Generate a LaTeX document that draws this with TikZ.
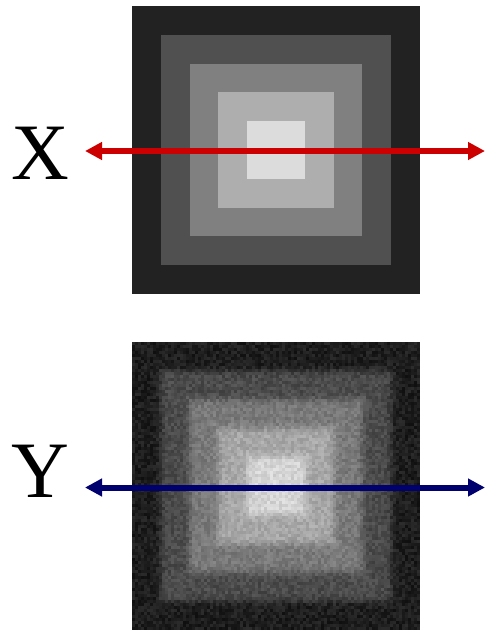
\documentclass[tikz,border=0pt]{standalone}
\usepackage{fontspec}
\setmainfont{Liberation Serif}
\usetikzlibrary{arrows.meta}
\definecolor{LevelA}{RGB}{34, 34, 34}
\definecolor{LevelB}{RGB}{80, 80, 80}
\definecolor{LevelC}{RGB}{128, 128, 128}
\definecolor{LevelD}{RGB}{174, 174, 174}
\definecolor{LevelE}{RGB}{220, 220, 220}
\definecolor{ProfileRed}{RGB}{204, 0, 0}
\definecolor{ProfileBlue}{RGB}{0, 0, 110}
\begin{document}
\begin{tikzpicture}[
    x=1pt, y=-1pt,
    letter/.style={font=\fontsize{80}{80}\selectfont, inner sep=0pt},
    profile/.style={{Triangle[length=17pt, width=17pt]}-{Triangle[length=17pt, width=17pt]}, line width=6pt}
  ]
    \useasboundingbox (0,0) rectangle (486,632);

    % Clean image: nested squares
    \foreach \k/\c in {0/LevelA, 1/LevelB, 2/LevelC, 3/LevelD, 4/LevelE} {
      \fill[\c] (132+28.8*\k, 6+28.8*\k) rectangle (420-28.8*\k, 294-28.8*\k);
    }

    % Noisy image: blurred levels plus noise
    \pgfmathsetseed{7}
    \foreach \i in {0,...,95} {
      \foreach \j in {0,...,95} {
        \pgfmathsetmacro\dd{max(abs(\i*3+1.5-144),abs(\j*3+1.5-144))}
        \pgfmathtruncatemacro\gv{min(255,max(0,30+46*(1/(1+exp(min(9,max(-9,(\dd-115.2)/2))))+1/(1+exp(min(9,max(-9,(\dd-86.4)/2))))+1/(1+exp(min(9,max(-9,(\dd-57.6)/2))))+1/(1+exp(min(9,max(-9,(\dd-28.8)/2)))))+30*(rnd-0.5)))}
        \fill[fill={rgb,255:red,\gv;green,\gv;blue,\gv}] (132+\i*3, 342+\j*3) rectangle ++(3.3,3.3);
      }
    }

    % Labels
    \node[letter] (labX) at (40,153) {X};
    \node[letter] (labY) at (40,471.5) {Y};

    % Profile lines
    \coordinate (xl) at (85,151);
    \coordinate (xr) at (485,151);
    \coordinate (yl) at (85,487.5);
    \coordinate (yr) at (485,487.5);
    \draw[profile, ProfileRed] (xl) -- (xr);
    \draw[profile, ProfileBlue] (yl) -- (yr);
  \end{tikzpicture}
\end{document}
